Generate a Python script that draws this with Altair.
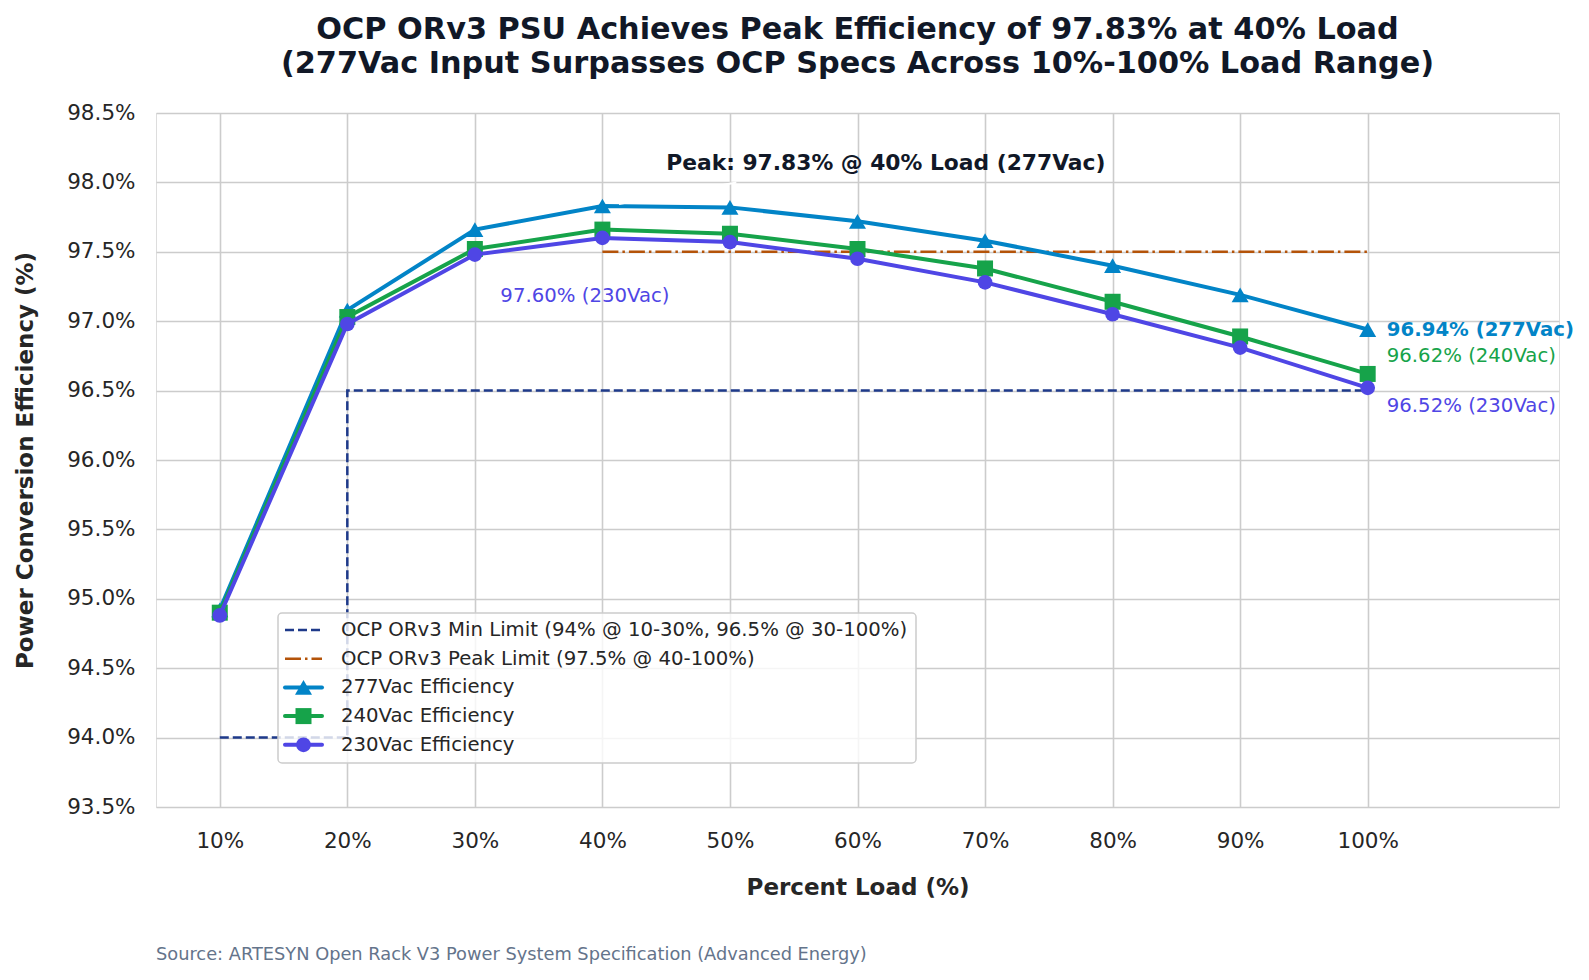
import altair as alt
import pandas as pd

# ---------------- data ----------------
loads = [10, 20, 30, 40, 50, 60, 70, 80, 90, 100]
eff_277 = [94.92, 97.08, 97.66, 97.83, 97.82, 97.72, 97.58, 97.40, 97.19, 96.94]
eff_240 = [94.90, 97.03, 97.52, 97.66, 97.63, 97.52, 97.38, 97.14, 96.89, 96.62]
eff_230 = [94.88, 96.98, 97.48, 97.60, 97.57, 97.45, 97.28, 97.05, 96.81, 96.52]

series_names = ["277Vac Efficiency", "240Vac Efficiency", "230Vac Efficiency"]
series_values = [eff_277, eff_240, eff_230]
series_colors = ["#0284c7", "#16a34a", "#4f46e5"]
series_shapes = ["triangle-up", "square", "circle"]
series_sizes = [289, 256, 216]

min_limit_x = [10, 20, 20, 100]
min_limit_y = [94.0, 94.0, 96.5, 96.5]
peak_limit_x = [40, 100]
peak_limit_y = [97.5, 97.5]

x_ticks = [10, 20, 30, 40, 50, 60, 70, 80, 90, 100]
y_ticks = [93.5, 94.0, 94.5, 95.0, 95.5, 96.0, 96.5, 97.0, 97.5, 98.0, 98.5]

legend_labels = [
    "OCP ORv3 Min Limit (94% @ 10-30%, 96.5% @ 30-100%)",
    "OCP ORv3 Peak Limit (97.5% @ 40-100%)",
    "277Vac Efficiency",
    "240Vac Efficiency",
    "230Vac Efficiency",
]

title_lines = [
    "OCP ORv3 PSU Achieves Peak Efficiency of 97.83% at 40% Load",
    "(277Vac Input Surpasses OCP Specs Across 10%-100% Load Range)",
]
x_title = "Percent Load (%)"
y_title = "Power Conversion Efficiency (%)"
source_text = "Source: ARTESYN Open Rack V3 Power System Specification (Advanced Energy)"

peak_note = ["Peak: 97.83% @ 40% Load (277Vac)"]
peak_note_x = [45]
peak_note_y = [98.14]
arrow_x = [50.5, 41.3]
arrow_y = [98.0, 97.845]

note_230 = ["97.60% (230Vac)"]
note_230_x = [32]
note_230_y = [97.18]

end_labels = ["96.94% (277Vac)", "96.62% (240Vac)", "96.52% (230Vac)"]
end_label_x = [101.5, 101.5, 101.5]
end_label_y = [96.94, 96.75, 96.39]

# ---------------- style ----------------
FONT = "DejaVu Sans"
TXT = "#262626"
DARK = "#111827"
GRID = "#cccccc"
MIN_COLOR = "#1e3a8a"
PEAK_COLOR = "#b45309"
MIN_DASH = [9, 4]
PEAK_DASH = [16, 4, 2.5, 4]

W, H = 1403, 694

xscale = alt.Scale(domain=[5, 115], nice=False, zero=False)
yscale = alt.Scale(domain=[93.5, 98.5], nice=False, zero=False)

x_axis = alt.Axis(
    values=x_ticks, labelExpr="datum.value + '%'", grid=True, gridColor=GRID, gridWidth=1.6,
    ticks=False, domain=False, labelFontSize=21.5, labelPadding=23, labelColor=TXT, labelFont=FONT,
    title=x_title, titleFontSize=23, titleFontWeight="bold", titleColor=TXT, titleFont=FONT,
    titleY=80, titleBaseline="middle",
)
y_axis = alt.Axis(
    values=y_ticks, labelExpr="format(datum.value, '.1f') + '%'", grid=True, gridColor=GRID, gridWidth=1.6,
    ticks=False, domain=False, labelFontSize=21.5, labelPadding=21, labelColor=TXT, labelFont=FONT,
    title=y_title, titleFontSize=23, titleFontWeight="bold", titleColor=TXT, titleFont=FONT,
    titleX=-131, titleY=H / 2, titleAngle=270, titleBaseline="middle", titleAlign="center",
)


def X(field="x"):
    return alt.X(f"{field}:Q", scale=xscale, axis=x_axis)


def Y(field="y"):
    return alt.Y(f"{field}:Q", scale=yscale, axis=y_axis)


layers = []

# OCP limit lines
df_min = pd.DataFrame({"x": min_limit_x, "y": min_limit_y, "o": list(range(len(min_limit_x)))})
layers.append(
    alt.Chart(df_min).mark_line(color=MIN_COLOR, strokeWidth=2.5, strokeDash=MIN_DASH)
    .encode(x=X(), y=Y(), order="o:Q")
)
df_peak = pd.DataFrame({"x": peak_limit_x, "y": peak_limit_y, "o": list(range(len(peak_limit_x)))})
layers.append(
    alt.Chart(df_peak).mark_line(color=PEAK_COLOR, strokeWidth=2.5, strokeDash=PEAK_DASH)
    .encode(x=X(), y=Y(), order="o:Q")
)

# efficiency series
for name, vals, col, shp, sz in zip(series_names, series_values, series_colors, series_shapes, series_sizes):
    d = pd.DataFrame({"x": loads, "y": vals})
    layers.append(alt.Chart(d).mark_line(color=col, strokeWidth=4).encode(x=X(), y=Y()))
    layers.append(
        alt.Chart(d).mark_point(filled=True, color=col, shape=shp, size=sz, opacity=1)
        .encode(x=X(), y=Y())
    )

# white annotation arrow
df_arrow = pd.DataFrame({"x": [arrow_x[0]], "y": [arrow_y[0]], "x2": [arrow_x[1]], "y2": [arrow_y[1]]})
layers.append(
    alt.Chart(df_arrow).mark_rule(color="white", strokeWidth=2)
    .encode(x=X(), y=Y(), x2="x2:Q", y2="y2:Q")
)

# annotations
df_pn = pd.DataFrame({"x": peak_note_x, "y": peak_note_y, "t": peak_note})
layers.append(
    alt.Chart(df_pn).mark_text(align="left", baseline="middle", fontSize=21.8, fontWeight="bold", color=DARK, font=FONT)
    .encode(x=X(), y=Y(), text="t:N")
)
df_n230 = pd.DataFrame({"x": note_230_x, "y": note_230_y, "t": note_230})
layers.append(
    alt.Chart(df_n230).mark_text(align="left", baseline="middle", fontSize=19.7, color=series_colors[2], font=FONT)
    .encode(x=X(), y=Y(), text="t:N")
)
for i, (lab, lx, ly) in enumerate(zip(end_labels, end_label_x, end_label_y)):
    d = pd.DataFrame({"x": [lx], "y": [ly], "t": [lab]})
    layers.append(
        alt.Chart(d).mark_text(align="left", baseline="middle", fontSize=19.7,
                               fontWeight="bold" if i == 0 else "normal", color=series_colors[i], font=FONT)
        .encode(x=X(), y=Y(), text="t:N")
    )

# legend (custom, drawn in pixel space of the plot area)
LX0, LX1, LY0, LY1 = 122, 760, 500, 650
ROW0, ROWSTEP = 517, 28.7
SYM0, SYM1, TXT0 = 129, 166, 185
layers.append(
    alt.Chart(pd.DataFrame({"a": [0]})).mark_rect(fill="white", fillOpacity=0.8, stroke=GRID, strokeWidth=1.5, cornerRadius=4)
    .encode(x=alt.value(LX0), x2=alt.value(LX1), y=alt.value(LY0), y2=alt.value(LY1))
)
leg_styles = [
    dict(color=MIN_COLOR, width=2.5, dash=MIN_DASH, shape=None, size=None),
    dict(color=PEAK_COLOR, width=2.5, dash=PEAK_DASH, shape=None, size=None),
] + [dict(color=c, width=4, dash=None, shape=s, size=z) for c, s, z in zip(series_colors, series_shapes, series_sizes)]
for i, (lab, st) in enumerate(zip(legend_labels, leg_styles)):
    ry = ROW0 + i * ROWSTEP
    one = pd.DataFrame({"t": [lab]})
    rule_kw = dict(color=st["color"], strokeWidth=st["width"])
    if st["dash"]:
        rule_kw["strokeDash"] = st["dash"]
    else:
        rule_kw["strokeCap"] = "round"
    layers.append(
        alt.Chart(one).mark_rule(**rule_kw)
        .encode(x=alt.value(SYM0), x2=alt.value(SYM1), y=alt.value(ry))
    )
    if st["shape"]:
        layers.append(
            alt.Chart(one).mark_point(filled=True, color=st["color"], shape=st["shape"], size=st["size"], opacity=1)
            .encode(x=alt.value((SYM0 + SYM1) / 2), y=alt.value(ry))
        )
    layers.append(
        alt.Chart(one).mark_text(align="left", baseline="middle", fontSize=19.7, color=TXT, font=FONT)
        .encode(x=alt.value(TXT0), y=alt.value(ry), text="t:N")
    )

# source note
layers.append(
    alt.Chart(pd.DataFrame({"t": [source_text]})).mark_text(align="left", baseline="middle", fontSize=17.8, color="#64748b", font=FONT)
    .encode(x=alt.value(0), y=alt.value(842), text="t:N")
)

chart = (
    alt.layer(*layers)
    .properties(
        width=W,
        height=H,
        title=alt.TitleParams(
            text=title_lines, fontSize=30.3, fontWeight="bold", color=DARK, font=FONT,
            anchor="middle", frame="group", offset=23, lineHeight=34,
        ),
        padding={"left": 148, "top": 105, "right": 22, "bottom": 166},
        autosize=alt.AutoSizeParams(type="none"),
        background="white",
    )
    .configure_view(stroke=None)
    .configure(font=FONT)
)

chart.save("out.html", embed_options={"renderer": "svg", "actions": False})
